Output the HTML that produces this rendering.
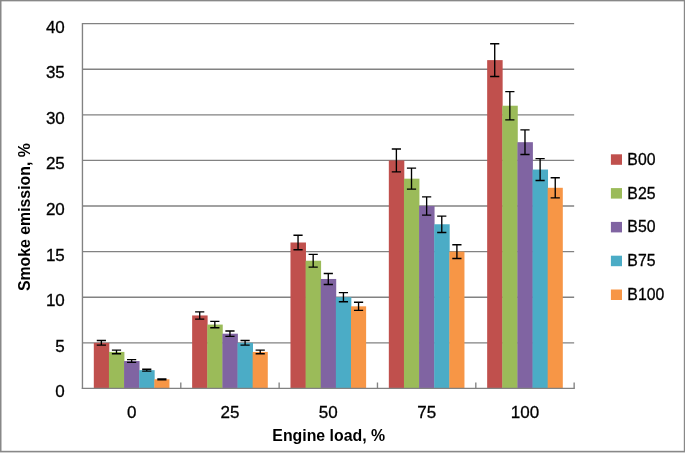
<!DOCTYPE html>
<html><head><meta charset="utf-8"><title>Smoke emission vs engine load</title>
<style>html,body{margin:0;padding:0;background:#fff}svg{display:block}text{font-family:"Liberation Sans",sans-serif;fill:#000}.r{stroke:#000;stroke-width:.3px}</style></head><body>
<svg width="685" height="455" viewBox="0 0 685 455">
<rect x="0" y="0" width="685" height="455" fill="#fff"/>
<rect x="0.7" y="0.55" width="683.9" height="451.05" fill="none" stroke="#888" stroke-width="1.6"/>
<line x1="82.45" y1="342.81" x2="574.15" y2="342.81" stroke="#828282" stroke-width="1.35"/>
<line x1="82.45" y1="297.21" x2="574.15" y2="297.21" stroke="#828282" stroke-width="1.35"/>
<line x1="82.45" y1="251.62" x2="574.15" y2="251.62" stroke="#828282" stroke-width="1.35"/>
<line x1="82.45" y1="206.02" x2="574.15" y2="206.02" stroke="#828282" stroke-width="1.35"/>
<line x1="82.45" y1="160.43" x2="574.15" y2="160.43" stroke="#828282" stroke-width="1.35"/>
<line x1="82.45" y1="114.84" x2="574.15" y2="114.84" stroke="#828282" stroke-width="1.35"/>
<line x1="82.45" y1="69.24" x2="574.15" y2="69.24" stroke="#828282" stroke-width="1.35"/>
<line x1="82.45" y1="23.65" x2="574.15" y2="23.65" stroke="#828282" stroke-width="1.35"/>
<rect x="93.80" y="342.81" width="15.48" height="45.59" fill="#C0504D"/>
<rect x="108.93" y="351.92" width="15.48" height="36.48" fill="#9BBB59"/>
<rect x="124.06" y="361.04" width="15.48" height="27.36" fill="#8064A2"/>
<rect x="139.18" y="370.16" width="15.48" height="18.24" fill="#4BACC6"/>
<rect x="154.31" y="379.28" width="15.13" height="9.12" fill="#F79646"/>
<rect x="192.14" y="315.45" width="15.48" height="72.95" fill="#C0504D"/>
<rect x="207.27" y="324.57" width="15.48" height="63.83" fill="#9BBB59"/>
<rect x="222.40" y="333.69" width="15.48" height="54.71" fill="#8064A2"/>
<rect x="237.52" y="342.81" width="15.48" height="45.59" fill="#4BACC6"/>
<rect x="252.65" y="351.92" width="15.13" height="36.48" fill="#F79646"/>
<rect x="290.48" y="242.50" width="15.48" height="145.90" fill="#C0504D"/>
<rect x="305.61" y="260.74" width="15.48" height="127.66" fill="#9BBB59"/>
<rect x="320.74" y="278.97" width="15.48" height="109.43" fill="#8064A2"/>
<rect x="335.86" y="297.21" width="15.48" height="91.19" fill="#4BACC6"/>
<rect x="350.99" y="306.33" width="15.13" height="82.07" fill="#F79646"/>
<rect x="388.82" y="160.43" width="15.48" height="227.97" fill="#C0504D"/>
<rect x="403.95" y="178.67" width="15.48" height="209.73" fill="#9BBB59"/>
<rect x="419.08" y="206.02" width="15.48" height="182.38" fill="#8064A2"/>
<rect x="434.20" y="224.26" width="15.48" height="164.14" fill="#4BACC6"/>
<rect x="449.33" y="251.62" width="15.13" height="136.78" fill="#F79646"/>
<rect x="487.16" y="60.12" width="15.48" height="328.28" fill="#C0504D"/>
<rect x="502.29" y="105.72" width="15.48" height="282.68" fill="#9BBB59"/>
<rect x="517.42" y="142.19" width="15.48" height="246.21" fill="#8064A2"/>
<rect x="532.54" y="169.55" width="15.48" height="218.85" fill="#4BACC6"/>
<rect x="547.67" y="187.79" width="15.13" height="200.61" fill="#F79646"/>
<line x1="82.45" y1="23.00" x2="82.45" y2="389.05" stroke="#828282" stroke-width="1.35"/>
<line x1="81.80" y1="388.40" x2="574.80" y2="388.40" stroke="#828282" stroke-width="1.35"/>
<line x1="180.79" y1="388.40" x2="180.79" y2="382.50" stroke="#828282" stroke-width="1.35"/>
<line x1="279.13" y1="388.40" x2="279.13" y2="382.50" stroke="#828282" stroke-width="1.35"/>
<line x1="377.47" y1="388.40" x2="377.47" y2="382.50" stroke="#828282" stroke-width="1.35"/>
<line x1="475.81" y1="388.40" x2="475.81" y2="382.50" stroke="#828282" stroke-width="1.35"/>
<line x1="574.15" y1="388.40" x2="574.15" y2="382.50" stroke="#828282" stroke-width="1.35"/>
<path d="M101.36 340.53V345.09M96.76 340.53H105.96M96.76 345.09H105.96" stroke="#000" stroke-width="1.35" fill="none"/>
<path d="M116.49 350.10V353.75M111.89 350.10H121.09M111.89 353.75H121.09" stroke="#000" stroke-width="1.35" fill="none"/>
<path d="M131.62 359.68V362.41M127.02 359.68H136.22M127.02 362.41H136.22" stroke="#000" stroke-width="1.35" fill="none"/>
<path d="M146.75 369.25V371.07M142.15 369.25H151.35M142.15 371.07H151.35" stroke="#000" stroke-width="1.35" fill="none"/>
<path d="M161.88 378.83V379.74M157.28 378.83H166.48M157.28 379.74H166.48" stroke="#000" stroke-width="1.35" fill="none"/>
<path d="M199.70 311.80V319.10M195.10 311.80H204.30M195.10 319.10H204.30" stroke="#000" stroke-width="1.35" fill="none"/>
<path d="M214.83 321.38V327.76M210.23 321.38H219.43M210.23 327.76H219.43" stroke="#000" stroke-width="1.35" fill="none"/>
<path d="M229.96 330.95V336.42M225.36 330.95H234.56M225.36 336.42H234.56" stroke="#000" stroke-width="1.35" fill="none"/>
<path d="M245.09 340.53V345.09M240.49 340.53H249.69M240.49 345.09H249.69" stroke="#000" stroke-width="1.35" fill="none"/>
<path d="M260.22 350.10V353.75M255.62 350.10H264.82M255.62 353.75H264.82" stroke="#000" stroke-width="1.35" fill="none"/>
<path d="M298.04 235.20V249.79M293.44 235.20H302.64M293.44 249.79H302.64" stroke="#000" stroke-width="1.35" fill="none"/>
<path d="M313.17 254.35V267.12M308.57 254.35H317.77M308.57 267.12H317.77" stroke="#000" stroke-width="1.35" fill="none"/>
<path d="M328.30 273.50V284.45M323.70 273.50H332.90M323.70 284.45H332.90" stroke="#000" stroke-width="1.35" fill="none"/>
<path d="M343.43 292.65V301.77M338.83 292.65H348.03M338.83 301.77H348.03" stroke="#000" stroke-width="1.35" fill="none"/>
<path d="M358.56 302.23V310.43M353.96 302.23H363.16M353.96 310.43H363.16" stroke="#000" stroke-width="1.35" fill="none"/>
<path d="M396.38 149.03V171.83M391.78 149.03H400.98M391.78 171.83H400.98" stroke="#000" stroke-width="1.35" fill="none"/>
<path d="M411.51 168.18V189.16M406.91 168.18H416.11M406.91 189.16H416.11" stroke="#000" stroke-width="1.35" fill="none"/>
<path d="M426.64 196.91V215.14M422.04 196.91H431.24M422.04 215.14H431.24" stroke="#000" stroke-width="1.35" fill="none"/>
<path d="M441.77 216.06V232.47M437.17 216.06H446.37M437.17 232.47H446.37" stroke="#000" stroke-width="1.35" fill="none"/>
<path d="M456.90 244.78V258.46M452.30 244.78H461.50M452.30 258.46H461.50" stroke="#000" stroke-width="1.35" fill="none"/>
<path d="M494.72 43.71V76.54M490.12 43.71H499.32M490.12 76.54H499.32" stroke="#000" stroke-width="1.35" fill="none"/>
<path d="M509.85 91.58V119.85M505.25 91.58H514.45M505.25 119.85H514.45" stroke="#000" stroke-width="1.35" fill="none"/>
<path d="M524.98 129.88V154.50M520.38 129.88H529.58M520.38 154.50H529.58" stroke="#000" stroke-width="1.35" fill="none"/>
<path d="M540.11 158.61V180.49M535.51 158.61H544.71M535.51 180.49H544.71" stroke="#000" stroke-width="1.35" fill="none"/>
<path d="M555.24 177.76V197.82M550.64 177.76H559.84M550.64 197.82H559.84" stroke="#000" stroke-width="1.35" fill="none"/>
<text x="64.8" y="397.40" class="r" font-size="17" text-anchor="end">0</text>
<text x="64.8" y="351.81" class="r" font-size="17" text-anchor="end">5</text>
<text x="64.8" y="306.21" class="r" font-size="17" text-anchor="end">10</text>
<text x="64.8" y="260.62" class="r" font-size="17" text-anchor="end">15</text>
<text x="64.8" y="215.02" class="r" font-size="17" text-anchor="end">20</text>
<text x="64.8" y="169.43" class="r" font-size="17" text-anchor="end">25</text>
<text x="64.8" y="123.84" class="r" font-size="17" text-anchor="end">30</text>
<text x="64.8" y="78.24" class="r" font-size="17" text-anchor="end">35</text>
<text x="64.8" y="32.65" class="r" font-size="17" text-anchor="end">40</text>
<text x="131.62" y="417.5" class="r" font-size="17" text-anchor="middle">0</text>
<text x="229.96" y="417.5" class="r" font-size="17" text-anchor="middle">25</text>
<text x="328.30" y="417.5" class="r" font-size="17" text-anchor="middle">50</text>
<text x="426.64" y="417.5" class="r" font-size="17" text-anchor="middle">75</text>
<text x="524.98" y="417.5" class="r" font-size="17" text-anchor="middle">100</text>
<text x="328.7" y="441.0" font-size="15.85" font-weight="bold" text-anchor="middle">Engine load, %</text>
<text transform="translate(29.5 217.15) rotate(-90)" font-size="15.85" font-weight="bold" text-anchor="middle">Smoke emission, %</text>
<rect x="610.9" y="154.30" width="11.1" height="10.5" fill="#C0504D"/>
<text x="627.35" y="164.80" class="r" font-size="15.8">B00</text>
<rect x="610.9" y="188.10" width="11.1" height="10.5" fill="#9BBB59"/>
<text x="627.35" y="198.60" class="r" font-size="15.8">B25</text>
<rect x="610.9" y="221.90" width="11.1" height="10.5" fill="#8064A2"/>
<text x="627.35" y="232.40" class="r" font-size="15.8">B50</text>
<rect x="610.9" y="255.70" width="11.1" height="10.5" fill="#4BACC6"/>
<text x="627.35" y="266.20" class="r" font-size="15.8">B75</text>
<rect x="610.9" y="289.50" width="11.1" height="10.5" fill="#F79646"/>
<text x="627.35" y="300.00" class="r" font-size="15.8">B100</text>
</svg></body></html>
